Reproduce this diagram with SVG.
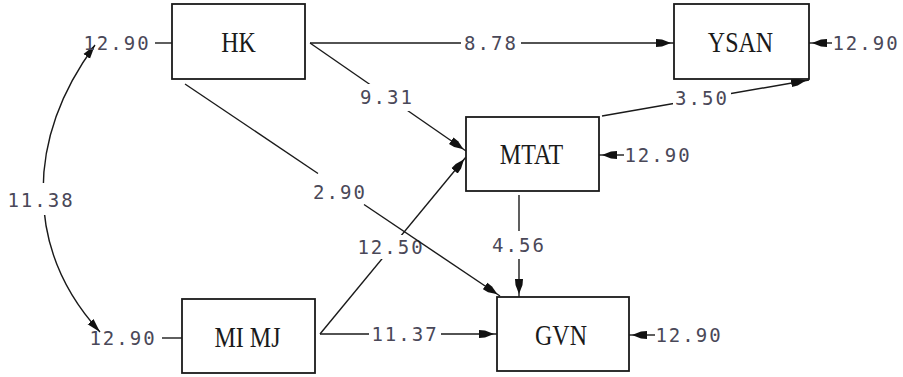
<svg xmlns="http://www.w3.org/2000/svg" width="903" height="377" viewBox="0 0 903 377">
<style>
.box{fill:#fff;stroke:#1a1a1a;stroke-width:1.8}
.name{font-family:"Liberation Serif","Times New Roman",serif;font-size:24px;fill:#1a1a1a;text-anchor:middle}
.num{font-family:"DejaVu Sans Mono",monospace;font-size:19px;letter-spacing:2px;fill:#4a4858;text-anchor:middle}
.ln{fill:none;stroke:#1a1a1a;stroke-width:1.4}
.arr{marker-end:url(#ah)}
.bg{fill:#fff}
</style>
<defs>
<marker id="ah" viewBox="0 -5 20 10" markerWidth="20" markerHeight="10" refX="18" refY="0" orient="auto" markerUnits="userSpaceOnUse"><path d="M0,-4 L6,-3.5 L15,0 L6,3.5 L0,4 Z" fill="#111"/></marker>
<marker id="ah2" viewBox="0 -5 16 10" markerWidth="16" markerHeight="10" refX="14" refY="0" orient="auto-start-reverse" markerUnits="userSpaceOnUse"><path d="M0,-4 L14,0 L0,4 Z" fill="#111"/></marker>
</defs>
<rect x="0" y="0" width="903" height="377" fill="#fff"/>
<g id="connectors">
<path class="ln" d="M155,43 L172,43"/>
<path class="ln" d="M162,338 L182,338"/>
<path class="ln arr" d="M832,43 L809,43"/>
<path class="ln arr" d="M624,155 L599,155"/>
<path class="ln arr" d="M655,335 L629,335"/>
<path class="ln arr" d="M310,43 L674,43"/>
<path class="ln arr" d="M310,43 L466,151"/>
<path class="ln arr" d="M602,116 L809,80"/>
<path class="ln arr" d="M519,195 L519,297"/>
<path class="ln arr" d="M320,334 L497,334"/>
<path class="ln arr" d="M320,334 L466,157"/>
<path class="ln" d="M185,84 L318,173.5"/>
<path class="ln" d="M95,45 C25,140 25,250 100,332" marker-start="url(#ah2)" marker-end="url(#ah2)"/>
<g id="labels">
<text class="num" x="117" y="50">12.90</text>
<text class="num" x="123" y="345">12.90</text>
<text class="num" x="866" y="50">12.90</text>
<text class="num" x="658" y="162">12.90</text>
<text class="num" x="689" y="342">12.90</text>
<rect class="bg" x="461" y="31" width="60" height="24"/><text class="num" x="491" y="50">8.78</text>
<rect class="bg" x="358" y="84" width="58" height="27"/><text class="num" x="387" y="104">9.31</text>
<rect class="bg" x="673" y="86" width="58" height="24"/><text class="num" x="702" y="105">3.50</text>
<rect class="bg" x="490" y="231" width="58" height="28"/><text class="num" x="519" y="252">4.56</text>
<rect class="bg" x="369" y="322" width="72" height="24"/><text class="num" x="405" y="341">11.37</text>
<rect class="bg" x="355" y="235" width="72" height="24"/><text class="num" x="391" y="254">12.50</text>
<rect class="bg" x="5" y="183" width="72" height="32"/><text class="num" x="41" y="207">11.38</text>
<rect class="bg" x="311" y="180" width="58" height="24"/><text class="num" x="340" y="199">2.90</text>
</g>
<path class="ln arr" d="M364,204.5 L500,296"/>
</g>
<g id="node-HK"><rect class="box" x="172" y="4" width="133" height="75"/><text class="name" transform="translate(238.5,42.5) scale(1,1.2)" y="7.9">HK</text></g>
<g id="node-YSAN"><rect class="box" x="674" y="4" width="135" height="75"/><text class="name" transform="translate(740.5,43) scale(1,1.2)" y="7.9">YSAN</text></g>
<g id="node-MTAT"><rect class="box" x="466" y="117" width="133" height="74"/><text class="name" transform="translate(531.5,155) scale(1,1.2)" y="7.9">MTAT</text></g>
<g id="node-GVN"><rect class="box" x="497" y="297" width="132" height="74"/><text class="name" transform="translate(561,336) scale(1,1.2)" y="7.9">GVN</text></g>
<g id="node-MIMJ"><rect class="box" x="182" y="299" width="133" height="74"/><text class="name" transform="translate(247.5,338) scale(1,1.2)" y="7.9">MI MJ</text></g>
</svg>
